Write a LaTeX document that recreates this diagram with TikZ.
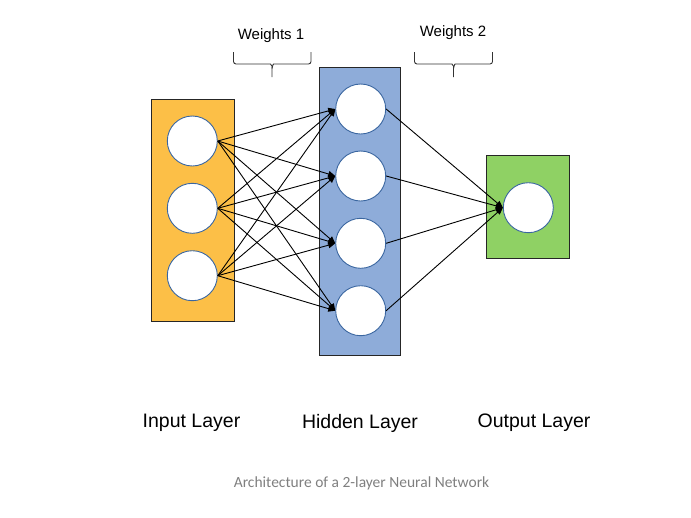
\documentclass[tikz,border=0pt]{standalone}
\usepackage{fontspec}
\setmainfont{Liberation Sans}
\newfontfamily\capfont{Carlito}
\usetikzlibrary{arrows.meta}
\definecolor{inorange}{HTML}{FCBF47}
\definecolor{hidblue}{HTML}{8EACD9}
\definecolor{outgreen}{HTML}{8FD164}
\definecolor{cborder}{HTML}{3A66A0}
\definecolor{capgray}{HTML}{7F7F7F}
\tikzset{
  layerbox/.style={draw=black!85, line width=0.9pt},
  neuron/.style={circle, draw=cborder, fill=white, line width=0.9pt, minimum size=50pt, inner sep=0pt},
  conn/.style={draw=black, line width=0.9pt, -{Triangle[length=7pt,width=6pt]}},
  wbrace/.style={draw=black!80, line width=0.9pt, rounded corners=2.5pt},
  bigtxt/.style={font=\fontsize{19.5}{23}\selectfont},
  wtxt/.style={font=\fontsize{15}{18}\selectfont},
  captxt/.style={font=\capfont\fontsize{15.5}{18}\selectfont, text=capgray}
}
\begin{document}
\begin{tikzpicture}[x=1pt,y=-1pt]
\useasboundingbox (0,0) rectangle (691,517);
% layer boxes
\node[layerbox, fill=inorange, minimum width=83pt, minimum height=222pt, inner sep=0pt] (inbox) at (192.5,210) {};
\node[layerbox, fill=hidblue, minimum width=81pt, minimum height=288pt, inner sep=0pt] (hidbox) at (360,211.5) {};
\node[layerbox, fill=outgreen, minimum width=83pt, minimum height=103pt, inner sep=0pt] (outbox) at (528.2,207.2) {};
% neurons
\node[neuron] (i1) at (192.3,141) {};
\node[neuron] (i2) at (192.3,208.3) {};
\node[neuron] (i3) at (192.3,275.7) {};
\node[neuron] (h1) at (360.7,109) {};
\node[neuron] (h2) at (360.7,176) {};
\node[neuron] (h3) at (360.7,243.3) {};
\node[neuron] (h4) at (360.7,310.7) {};
\node[neuron] (o1) at (528.3,207.7) {};
% connections
\foreach \i in {i1,i2,i3}{
  \foreach \h in {h1,h2,h3,h4}{
    \draw[conn] (\i.east) -- (\h.west);
  }
}
\foreach \h in {h1,h2,h3,h4}{
  \draw[conn] (\h.east) -- (o1.west);
}
% braces
\draw[wbrace] (233.5,52) |- (268,64) to[out=0,in=90] (272,68.5) -- (272,77);
\draw[wbrace] (311,52) |- (276,64) to[out=180,in=90] (272,68.5);
\draw[wbrace] (414.5,52) |- (449.5,64) to[out=0,in=90] (453.5,68.5) -- (453.5,77);
\draw[wbrace] (492.5,52) |- (457.5,64) to[out=180,in=90] (453.5,68.5);
\node[wtxt] (w1) at (271,36) {Weights 1};
\node[wtxt] (w2) at (453,33) {Weights 2};
% labels
\node[bigtxt] (lin) at (191.5,423) {Input Layer};
\node[bigtxt] (lhid) at (360,423) {Hidden Layer};
\node[bigtxt] (lout) at (534,423) {Output Layer};
\node[captxt] (cap) at (361.5,483) {Architecture of a 2-layer Neural Network};
\end{tikzpicture}
\end{document}
